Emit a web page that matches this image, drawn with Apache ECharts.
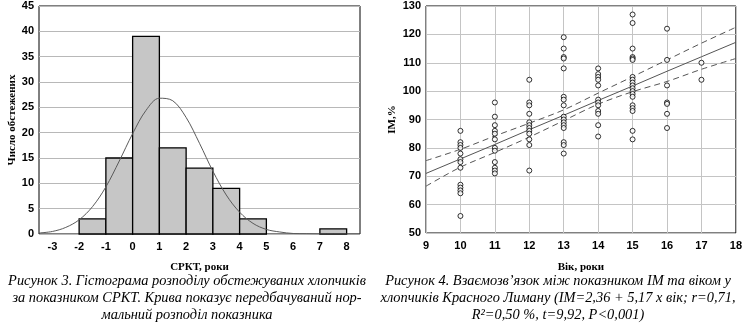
<!DOCTYPE html>
<html>
<head>
<meta charset="utf-8">
<script src="https://cdn.jsdelivr.net/npm/echarts@6/dist/echarts.min.js"></script>
<style>
  html, body { margin: 0; padding: 0; background: #fff; }
  #chart { width: 745px; height: 324px; }
</style>
</head>
<body>
<div id="chart"></div>
<script>
// ---- Histogram of SRKT (years), bins of width 1 ----
const binStarts = [-2, -1, 0, 1, 2, 3, 4, 7];
const binCounts = [3, 15, 39, 17, 13, 9, 3, 1];
const srktTicks = [-3, -2, -1, 0, 1, 2, 3, 4, 5, 6, 7, 8];

// expected normal curve (read at half-year steps)
const curveX = [-3.5, -3, -2.5, -2, -1.5, -1, -0.5, 0, 0.5, 1, 1.5, 2, 2.5, 3, 3.5, 4, 4.5, 5, 5.5, 6, 6.5, 7, 7.5, 8, 8.5];
const curveY = [0.2, 0.5, 1.3, 2.8, 5.4, 9.3, 14.4, 19.8, 24.4, 26.8, 26.3, 23.0, 17.9, 12.4, 7.7, 4.3, 2.1, 0.9, 0.4, 0.1, 0.05, 0, 0, 0, 0];

// ---- IM (%) against age ----
const im10 = [86, 82, 81, 80, 78, 76, 75, 73, 67, 66, 65, 64, 56];
const im11 = [96, 91, 88, 86, 85, 83, 80, 79, 75, 73, 72, 71];
const im12 = [104, 96, 95, 92, 89, 88, 87, 86, 85, 83, 81, 72];
const im13 = [119, 115, 112, 111.5, 108, 98, 97, 95, 91, 90, 89, 88, 87, 82, 81, 78];
const im14 = [108, 106, 105, 104, 102, 97, 96, 95, 93, 92, 88, 84];
const im15 = [127, 124, 115, 112, 111.5, 111, 105, 104, 103, 102, 101, 100, 99, 98, 95, 94, 93, 86, 83];
const im16 = [122, 111, 102, 96, 95.5, 92, 87];
const im17 = [110, 104];

// fitted line and its confidence band
const fitAges = [9, 10, 11, 12, 13, 14, 15, 16, 17, 18];
const fitLine = [71, 76.1, 81.2, 86.4, 91.5, 96.7, 101.8, 107.0, 112.1, 117.2];
const fitUpper = [75.5, 79.5, 84.2, 88.7, 93.4, 99.3, 105.1, 111.0, 116.9, 122.5];
const fitLower = [66.5, 73.2, 78.4, 83.8, 89.6, 95.4, 99.8, 103.4, 107.7, 111.5];

const groups = [[10, im10], [11, im11], [12, im12], [13, im13], [14, im14], [15, im15], [16, im16], [17, im17]];
const scatterData = [];
groups.forEach(([age, vals]) => vals.forEach(v => scatterData.push([age, v])));

const zip = (xs, ys) => xs.map((x, i) => [x, ys[i]]);

const tickFont = {
  fontFamily: '"Liberation Sans Narrow", "Liberation Sans", Arial, sans-serif',
  fontWeight: 'bold', fontSize: 11, color: '#000'
};
const titleFont = {
  fontFamily: '"Liberation Serif", "Times New Roman", serif',
  fontWeight: 'bold', fontSize: 11, color: '#000'
};
const capFont = '"Liberation Serif", "Times New Roman", serif';

const chart = echarts.init(document.getElementById('chart'), null, { renderer: 'canvas' });

const capStyle = (text, x, y) => ({
  type: 'text', x: x, y: y,
  style: {
    text: text, font: 'italic 14.4px ' + capFont, fill: '#000',
    textAlign: 'center', textVerticalAlign: 'middle'
  }
});

chart.setOption({
  animation: false,
  backgroundColor: '#fff',
  grid: [
    { left: 39, top: 6, width: 321, height: 228, show: true, borderColor: '#000', borderWidth: 1, backgroundColor: 'transparent' },
    { left: 426, top: 6, width: 311, height: 227, show: true, borderColor: '#000', borderWidth: 1, backgroundColor: 'transparent' }
  ],
  xAxis: [
    {
      gridIndex: 0, type: 'value', min: -3.5, max: 8.5,
      name: 'СРКТ, роки', nameLocation: 'middle', nameGap: 28, nameTextStyle: titleFont,
      axisLine: { show: false }, axisTick: { show: false }, splitLine: { show: false },
      axisLabel: Object.assign({ customValues: srktTicks, margin: 7 }, tickFont)
    },
    {
      gridIndex: 1, type: 'value', min: 9, max: 18, interval: 1,
      name: 'Вік, роки', nameLocation: 'middle', nameGap: 29, nameTextStyle: titleFont,
      axisLine: { show: false }, axisTick: { show: false },
      splitLine: { show: true, lineStyle: { color: '#c4c4c4', width: 1 } },
      axisLabel: Object.assign({ margin: 7 }, tickFont)
    }
  ],
  yAxis: [
    {
      gridIndex: 0, type: 'value', min: 0, max: 45, interval: 5,
      name: 'Число обстежених', nameLocation: 'middle', nameGap: 21, nameTextStyle: titleFont,
      axisLine: { show: false }, axisTick: { show: false },
      splitLine: { show: true, lineStyle: { color: '#b8b8b8', width: 1 } },
      axisLabel: Object.assign({ margin: 5 }, tickFont)
    },
    {
      gridIndex: 1, type: 'value', min: 50, max: 130, interval: 10,
      name: 'IM,%', nameLocation: 'middle', nameGap: 28, nameTextStyle: titleFont,
      axisLine: { show: false }, axisTick: { show: false },
      splitLine: { show: true, lineStyle: { color: '#c4c4c4', width: 1 } },
      axisLabel: Object.assign({ margin: 5 }, tickFont)
    }
  ],
  series: [
    {
      type: 'custom', xAxisIndex: 0, yAxisIndex: 0,
      data: binStarts.map((s, i) => [s, s + 1, binCounts[i]]),
      encode: { x: [0, 1], y: 2 },
      renderItem: function (params, api) {
        const p0 = api.coord([api.value(0), api.value(2)]);
        const p1 = api.coord([api.value(1), 0]);
        return {
          type: 'rect',
          shape: { x: p0[0], y: p0[1], width: p1[0] - p0[0], height: p1[1] - p0[1] },
          style: { fill: '#c6c6c6', stroke: '#000', lineWidth: 1.3 }
        };
      },
      z: 2
    },
    {
      type: 'line', xAxisIndex: 0, yAxisIndex: 0,
      data: zip(curveX, curveY), smooth: 0.35, showSymbol: false,
      lineStyle: { color: '#5a5a5a', width: 1 }, z: 3
    },
    {
      type: 'scatter', xAxisIndex: 1, yAxisIndex: 1,
      data: scatterData, symbol: 'circle', symbolSize: 5,
      itemStyle: { color: '#fff', borderColor: '#000', borderWidth: 1 }, z: 4
    },
    {
      type: 'line', xAxisIndex: 1, yAxisIndex: 1,
      data: zip(fitAges, fitLine), showSymbol: false,
      lineStyle: { color: '#555', width: 1 }, z: 3
    },
    {
      type: 'line', xAxisIndex: 1, yAxisIndex: 1,
      data: zip(fitAges, fitUpper), smooth: 0.3, showSymbol: false,
      lineStyle: { color: '#555', width: 1, type: [6, 4] }, z: 3
    },
    {
      type: 'line', xAxisIndex: 1, yAxisIndex: 1,
      data: zip(fitAges, fitLower), smooth: 0.3, showSymbol: false,
      lineStyle: { color: '#555', width: 1, type: [6, 4] }, z: 3
    }
  ],
  graphic: [
    capStyle('Рисунок 3. Гістограма розподілу обстежуваних хлопчиків', 187, 281),
    capStyle('за показником СРКТ. Крива показує передбачуваний нор-', 187, 298),
    capStyle('мальний розподіл показника', 187, 315),
    capStyle('Рисунок 4. Взаємозв’язок між показником ІМ та віком у', 558, 281),
    capStyle('хлопчиків Красного Лиману (ІМ=2,36 + 5,17 х вік; r=0,71,', 558, 298),
    capStyle('R²=0,50 %, t=9,92, P<0,001)', 558, 315)
  ]
});
</script>
</body>
</html>
